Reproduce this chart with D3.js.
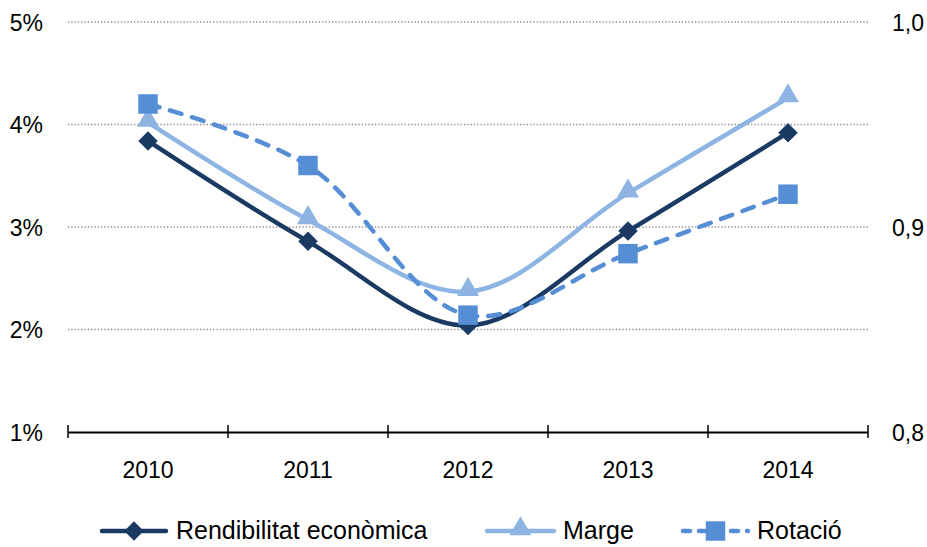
<!DOCTYPE html>
<html>
<head>
<meta charset="utf-8">
<script src="https://cdn.jsdelivr.net/npm/d3@7"></script>
<style>
  body { margin: 0; background: #fff; }
  text { font-family: "Liberation Sans", Arial, sans-serif; fill: #000; }
</style>
</head>
<body>
<div id="chart"></div>
<script>
var svgWidth = 927;
var svgHeight = 547;

// chart data
var years = ["2010", "2011", "2012", "2013", "2014"];
var rendibilitat = [3.84, 2.86, 2.04, 2.96, 3.92];
var marge = [4.02, 3.07, 2.37, 3.33, 4.26];
var rotacio = [0.960, 0.930, 0.857, 0.887, 0.916];
var leftTicks = [1, 2, 3, 4, 5];
var rightTicks = [0.8, 0.9, 1.0];
var gridTicks = [2, 3, 4, 5];

var margin = {top: 22, right: 59, bottom: 115, left: 68},
  width = svgWidth - margin.left - margin.right,
  height = svgHeight - margin.top - margin.bottom;

var svg = d3.select("#chart")
  .append("svg")
  .attr("width", svgWidth)
  .attr("height", svgHeight);

var chartGroup = svg.append("g")
  .attr("transform", `translate(${margin.left}, ${margin.top})`);

// scales
var xBand = d3.scaleBand()
  .domain(years)
  .range([0, width]);

var yLeft = d3.scaleLinear()
  .domain([1, 5])
  .range([height, 0]);

var yRight = d3.scaleLinear()
  .domain([0.8, 1.0])
  .range([height, 0]);

var xc = d => xBand(d) + xBand.bandwidth() / 2;

// dotted gridlines
chartGroup.append("g")
  .selectAll("line")
  .data(gridTicks)
  .enter()
  .append("line")
  .attr("x1", 0)
  .attr("x2", width)
  .attr("y1", d => yLeft(d))
  .attr("y2", d => yLeft(d))
  .attr("stroke", "#8c8c8c")
  .attr("stroke-width", 1.3)
  .attr("stroke-dasharray", "1.3,2");

// left axis labels
var leftAxis = d3.axisLeft(yLeft)
  .tickValues(leftTicks)
  .tickFormat(d => d + "%")
  .tickSize(0)
  .tickPadding(25);

var gLeft = chartGroup.append("g").call(leftAxis);
gLeft.select(".domain").remove();
gLeft.selectAll("text")
  .attr("font-size", "23px")
  .attr("font-family", "Liberation Sans, Arial, sans-serif")
  .attr("dy", "0.35em");

// right axis labels
var rightAxis = d3.axisRight(yRight)
  .tickValues(rightTicks)
  .tickFormat(d => d3.format(".1f")(d).replace(".", ","))
  .tickSize(0)
  .tickPadding(24);

var gRight = chartGroup.append("g")
  .attr("transform", `translate(${width}, 0)`)
  .call(rightAxis);
gRight.select(".domain").remove();
gRight.selectAll("text")
  .attr("font-size", "23px")
  .attr("font-family", "Liberation Sans, Arial, sans-serif")
  .attr("dy", "0.35em");

// bottom axis
var bottomAxis = d3.axisBottom(xBand).tickSize(0).tickPadding(46);
var gBottom = chartGroup.append("g")
  .attr("transform", `translate(0, ${height})`)
  .call(bottomAxis);
gBottom.select(".domain")
  .attr("stroke", "#000")
  .attr("stroke-width", 2);
gBottom.selectAll("text")
  .attr("font-size", "23px")
  .attr("font-family", "Liberation Sans, Arial, sans-serif")
  .attr("dy", "0");

// category boundary ticks
var bounds = years.map(d => xBand(d)).concat([width]);
gBottom.append("g")
  .selectAll("line")
  .data(bounds)
  .enter()
  .append("line")
  .attr("x1", d => d)
  .attr("x2", d => d)
  .attr("y1", -7)
  .attr("y2", 6)
  .attr("stroke", "#000")
  .attr("stroke-width", 1.5);

// series
var series = [
  {name: "Rendibilitat econòmica", values: rendibilitat, scale: yLeft, color: "#1a3a63", dash: null, marker: "diamond"},
  {name: "Marge", values: marge, scale: yLeft, color: "#8db4e2", dash: null, marker: "triangle"},
  {name: "Rotació", values: rotacio, scale: yRight, color: "#558ed5", dash: "12,11", marker: "square"}
];

var symbolFor = {
  diamond: d3.symbol().type(d3.symbolSquare).size(190),
  triangle: d3.symbol().type(d3.symbolTriangle).size(210),
  square: d3.symbol().type(d3.symbolSquare).size(380)
};

series.forEach(function(s) {
  var line = d3.line()
    .x((d, i) => xc(years[i]))
    .y(d => s.scale(d))
    .curve(d3.curveCatmullRom.alpha(0.5));

  chartGroup.append("path")
    .datum(s.values)
    .attr("d", line)
    .attr("fill", "none")
    .attr("stroke", s.color)
    .attr("stroke-width", 4.5)
    .attr("stroke-linecap", "round")
    .attr("stroke-dasharray", s.dash);

  chartGroup.append("g")
    .selectAll("path")
    .data(s.values)
    .enter()
    .append("path")
    .attr("d", symbolFor[s.marker])
    .attr("transform", function(d, i) {
      var t = `translate(${xc(years[i])}, ${s.scale(d)})`;
      if (s.marker === "diamond") t += " rotate(45)";
      if (s.marker === "triangle") t += " translate(0, -2)";
      return t;
    })
    .attr("fill", s.color);
});

// legend
var legendY = 531;
var legendItems = [
  {x1: 100, x2: 168, tx: 176},
  {x1: 485, x2: 556, tx: 563},
  {x1: 681, x2: 750, tx: 757}
];

var legend = svg.append("g");
series.forEach(function(s, i) {
  var it = legendItems[i];
  legend.append("line")
    .attr("x1", it.x1 + 2)
    .attr("x2", it.x2 - 2)
    .attr("y1", legendY)
    .attr("y2", legendY)
    .attr("stroke", s.color)
    .attr("stroke-width", 4.5)
    .attr("stroke-linecap", "round")
    .attr("stroke-dasharray", s.dash ? "7,9" : null);

  legend.append("path")
    .attr("d", symbolFor[s.marker])
    .attr("transform", function() {
      var t = `translate(${(it.x1 + it.x2) / 2}, ${legendY})`;
      if (s.marker === "diamond") t += " rotate(45)";
      if (s.marker === "triangle") t += " translate(0, -2)";
      return t;
    })
    .attr("fill", s.color);

  legend.append("text")
    .attr("x", it.tx)
    .attr("y", legendY)
    .attr("dy", "0.33em")
    .attr("font-size", "25px")
    .text(s.name);
});
</script>
</body>
</html>
